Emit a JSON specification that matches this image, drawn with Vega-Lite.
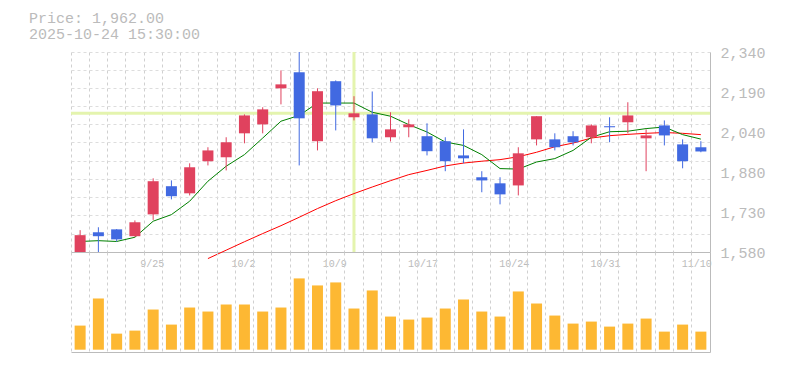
{
  "$schema": "https://vega.github.io/schema/vega-lite/v6.json",
  "padding": {"left": 29, "top": 10, "right": 10, "bottom": 10},
  "background": "white",
  "title": {"text": ["Price: 1,962.00", "2025-10-24 15:30:00"], "anchor": "start", "frame": "group", "dx": -42, "offset": 4, "font": "Liberation Mono", "fontSize": 15, "fontWeight": "normal", "color": "#bbbbbb", "lineHeight": 16},
  "spacing": 0,
  "bounds": "flush",
  "config": {
    "view": {"stroke": null},
    "axis": {"gridColor": "#dddddd", "gridDash": [3, 3], "gridWidth": 1, "domainColor": "#bbbbbb", "domainWidth": 1, "labelFont": "Liberation Mono", "labelColor": "#bbbbbb", "ticks": false, "title": null, "labelOverlap": false},
    "axisX": {"gridColor": "#d0d0d0"}
  },
  "data": {"values": [
    {"date": "9/18", "o": 1580, "h": 1663, "l": 1580, "c": 1644, "v": 48000, "ma5": 1620, "ma25": null},
    {"date": "9/19", "o": 1655, "h": 1674, "l": 1580, "c": 1640, "v": 102000, "ma5": 1623, "ma25": null},
    {"date": "9/22", "o": 1666, "h": 1667, "l": 1620, "c": 1628, "v": 32000, "ma5": 1620, "ma25": null},
    {"date": "9/24", "o": 1640, "h": 1700, "l": 1638, "c": 1693, "v": 38000, "ma5": 1636, "ma25": null},
    {"date": "9/25", "o": 1723, "h": 1860, "l": 1702, "c": 1849, "v": 80000, "ma5": 1697, "ma25": null},
    {"date": "9/26", "o": 1830, "h": 1852, "l": 1780, "c": 1792, "v": 50000, "ma5": 1722, "ma25": null},
    {"date": "9/29", "o": 1803, "h": 1917, "l": 1795, "c": 1902, "v": 84000, "ma5": 1773, "ma25": null},
    {"date": "9/30", "o": 1925, "h": 1978, "l": 1909, "c": 1966, "v": 76000, "ma5": 1849, "ma25": 1555},
    {"date": "10/1", "o": 1940, "h": 2016, "l": 1890, "c": 1997, "v": 90000, "ma5": 1906, "ma25": 1587},
    {"date": "10/2", "o": 2031, "h": 2103, "l": 1993, "c": 2099, "v": 90000, "ma5": 1950, "ma25": 1619},
    {"date": "10/3", "o": 2065, "h": 2130, "l": 2031, "c": 2122, "v": 76000, "ma5": 2013, "ma25": 1650},
    {"date": "10/6", "o": 2202, "h": 2270, "l": 2141, "c": 2217, "v": 84000, "ma5": 2077, "ma25": 1680},
    {"date": "10/7", "o": 2263, "h": 2340, "l": 1909, "c": 2088, "v": 142000, "ma5": 2099, "ma25": 1712},
    {"date": "10/8", "o": 2001, "h": 2202, "l": 1966, "c": 2191, "v": 128000, "ma5": 2146, "ma25": 1745},
    {"date": "10/9", "o": 2229, "h": 2232, "l": 2042, "c": 2137, "v": 134000, "ma5": 2146, "ma25": 1775},
    {"date": "10/10", "o": 2092, "h": 2172, "l": 2080, "c": 2107, "v": 82000, "ma5": 2146, "ma25": 1802},
    {"date": "10/14", "o": 2103, "h": 2190, "l": 1997, "c": 2012, "v": 118000, "ma5": 2111, "ma25": 1827},
    {"date": "10/15", "o": 2016, "h": 2111, "l": 2000, "c": 2046, "v": 66000, "ma5": 2096, "ma25": 1851},
    {"date": "10/16", "o": 2054, "h": 2084, "l": 2016, "c": 2065, "v": 60000, "ma5": 2064, "ma25": 1874},
    {"date": "10/17", "o": 2020, "h": 2069, "l": 1947, "c": 1963, "v": 64000, "ma5": 2036, "ma25": 1890},
    {"date": "10/20", "o": 2001, "h": 2016, "l": 1887, "c": 1925, "v": 82000, "ma5": 1998, "ma25": 1907},
    {"date": "10/21", "o": 1947, "h": 2046, "l": 1917, "c": 1936, "v": 100000, "ma5": 1985, "ma25": 1918},
    {"date": "10/22", "o": 1864, "h": 1887, "l": 1807, "c": 1852, "v": 76000, "ma5": 1950, "ma25": 1925},
    {"date": "10/23", "o": 1841, "h": 1864, "l": 1761, "c": 1799, "v": 66000, "ma5": 1897, "ma25": 1931},
    {"date": "10/24", "o": 1833, "h": 1978, "l": 1795, "c": 1955, "v": 116000, "ma5": 1895, "ma25": 1942},
    {"date": "10/27", "o": 2008, "h": 2096, "l": 1985, "c": 2096, "v": 92000, "ma5": 1922, "ma25": 1959},
    {"date": "10/28", "o": 2008, "h": 2031, "l": 1966, "c": 1978, "v": 68000, "ma5": 1935, "ma25": 1980},
    {"date": "10/29", "o": 2020, "h": 2039, "l": 1985, "c": 1997, "v": 52000, "ma5": 1966, "ma25": 1994},
    {"date": "10/30", "o": 2016, "h": 2065, "l": 1993, "c": 2061, "v": 56000, "ma5": 2016, "ma25": 2013},
    {"date": "10/31", "o": 2058, "h": 2092, "l": 1997, "c": 2054, "v": 46000, "ma5": 2037, "ma25": 2022},
    {"date": "11/4", "o": 2073, "h": 2149, "l": 2031, "c": 2099, "v": 52000, "ma5": 2039, "ma25": 2027},
    {"date": "11/5", "o": 2012, "h": 2046, "l": 1887, "c": 2023, "v": 62000, "ma5": 2049, "ma25": 2031},
    {"date": "11/6", "o": 2061, "h": 2080, "l": 1985, "c": 2023, "v": 36000, "ma5": 2055, "ma25": 2034},
    {"date": "11/7", "o": 1989, "h": 2008, "l": 1898, "c": 1925, "v": 50000, "ma5": 2026, "ma25": 2031},
    {"date": "11/10", "o": 1978, "h": 2001, "l": 1959, "c": 1962, "v": 36000, "ma5": 2009, "ma25": 2026}
  ]},
  "vconcat": [
    {
      "width": 639,
      "height": 200,
      "layer": [
        {
          "transform": [{"filter": "datum.date == '10/10'"}],
          "mark": {"type": "rule", "color": "#e4f4ae", "strokeWidth": 3},
          "encoding": {
            "y": {"field": "c", "type": "quantitative", "title": null, "scale": {"domain": [1580, 2340], "nice": false, "zero": false}}
          }
        },
        {
          "transform": [{"filter": "datum.date == '10/10'"}],
          "mark": {"type": "rule", "color": "#e4f4ae", "strokeWidth": 3},
          "encoding": {
            "x": {"field": "date", "type": "ordinal", "title": null, "scale": {"domain": ["9/18","9/19","9/22","9/24","9/25","9/26","9/29","9/30","10/1","10/2","10/3","10/6","10/7","10/8","10/9","10/10","10/14","10/15","10/16","10/17","10/20","10/21","10/22","10/23","10/24","10/27","10/28","10/29","10/30","10/31","11/4","11/5","11/6","11/7","11/10"], "paddingInner": 0, "paddingOuter": 0}}
          }
        },
        {
          "mark": {"type": "line", "color": "#ff0000", "strokeWidth": 1},
          "encoding": {
            "x": {"field": "date", "type": "ordinal", "title": null, "scale": {"domain": ["9/18","9/19","9/22","9/24","9/25","9/26","9/29","9/30","10/1","10/2","10/3","10/6","10/7","10/8","10/9","10/10","10/14","10/15","10/16","10/17","10/20","10/21","10/22","10/23","10/24","10/27","10/28","10/29","10/30","10/31","11/4","11/5","11/6","11/7","11/10"], "paddingInner": 0, "paddingOuter": 0}},
            "y": {"field": "ma25", "type": "quantitative", "title": null}
          }
        },
        {
          "mark": {"type": "line", "color": "#008000", "strokeWidth": 1},
          "encoding": {
            "x": {"field": "date", "type": "ordinal", "title": null, "scale": {"domain": ["9/18","9/19","9/22","9/24","9/25","9/26","9/29","9/30","10/1","10/2","10/3","10/6","10/7","10/8","10/9","10/10","10/14","10/15","10/16","10/17","10/20","10/21","10/22","10/23","10/24","10/27","10/28","10/29","10/30","10/31","11/4","11/5","11/6","11/7","11/10"], "paddingInner": 0, "paddingOuter": 0}},
            "y": {"field": "ma5", "type": "quantitative", "title": null}
          }
        },
        {
          "mark": {"type": "rule", "strokeWidth": 1},
          "encoding": {
            "x": {"field": "date", "type": "ordinal", "title": null, "scale": {"domain": ["9/18","9/19","9/22","9/24","9/25","9/26","9/29","9/30","10/1","10/2","10/3","10/6","10/7","10/8","10/9","10/10","10/14","10/15","10/16","10/17","10/20","10/21","10/22","10/23","10/24","10/27","10/28","10/29","10/30","10/31","11/4","11/5","11/6","11/7","11/10"], "paddingInner": 0, "paddingOuter": 0}},
            "y": {"field": "l", "type": "quantitative", "title": null},
            "y2": {"field": "h"},
            "color": {"condition": {"test": "datum.c >= datum.o", "value": "#e0425e"}, "value": "#4169e1"}
          }
        },
        {
          "mark": {"type": "bar", "width": 11},
          "encoding": {
            "x": {"field": "date", "type": "ordinal", "title": null,
              "scale": {"domain": ["9/18","9/19","9/22","9/24","9/25","9/26","9/29","9/30","10/1","10/2","10/3","10/6","10/7","10/8","10/9","10/10","10/14","10/15","10/16","10/17","10/20","10/21","10/22","10/23","10/24","10/27","10/28","10/29","10/30","10/31","11/4","11/5","11/6","11/7","11/10"], "paddingInner": 0, "paddingOuter": 0},
              "axis": {"orient": "bottom", "grid": true, "bandPosition": 0, "labelAngle": 0, "labelFontSize": 10, "labelPadding": 6, "labelOffset": 11, "labelBaseline": "top", "labelOverlap": false,
                "labelExpr": "indexof(['9/25','10/2','10/9','10/17','10/24','10/31','11/10'], datum.value) >= 0 ? datum.value : ''"}},
            "y": {"field": "o", "type": "quantitative", "title": null,
              "axis": {"orient": "right", "grid": true, "tickCount": 100, "labelFontSize": 15, "labelPadding": 10, "labelOffset": 0.5, "labelOverlap": false, "labelBound": false, "labelFlush": false,
                "values": [1580, 1648.4, 1720.6, 1732, 1789, 1857.4, 1884, 1925.8, 1998, 2036, 2066.4, 2134.8, 2188, 2203.2, 2271.6, 2340],
                "gridOpacity": {"condition": {"test": "indexof([1732, 1884, 2036, 2188], datum.value) < 0", "value": 1}, "value": 0},
                "labelExpr": "indexof([1580, 1732, 1884, 2036, 2188, 2340], datum.value) >= 0 ? format(round(datum.value / 10) * 10, ',') : ''"}},
            "y2": {"field": "c"},
            "color": {"condition": {"test": "datum.c >= datum.o", "value": "#e0425e"}, "value": "#4169e1"}
          }
        }
      ]
    },
    {
      "width": 639,
      "height": 100,
      "mark": {"type": "bar", "color": "#fdb833", "width": 11},
      "encoding": {
        "x": {"field": "date", "type": "ordinal", "title": null,
          "scale": {"domain": ["9/18","9/19","9/22","9/24","9/25","9/26","9/29","9/30","10/1","10/2","10/3","10/6","10/7","10/8","10/9","10/10","10/14","10/15","10/16","10/17","10/20","10/21","10/22","10/23","10/24","10/27","10/28","10/29","10/30","10/31","11/4","11/5","11/6","11/7","11/10"], "paddingInner": 0, "paddingOuter": 0},
          "axis": {"orient": "bottom", "grid": true, "bandPosition": 0, "labels": false}},
        "y": {"field": "v", "type": "quantitative", "title": null, "scale": {"domain": [-4600, 194600], "nice": false, "zero": false},
          "axis": {"orient": "right", "grid": false, "labels": false}},
        "y2": {"datum": 0}
      }
    }
  ]
}
